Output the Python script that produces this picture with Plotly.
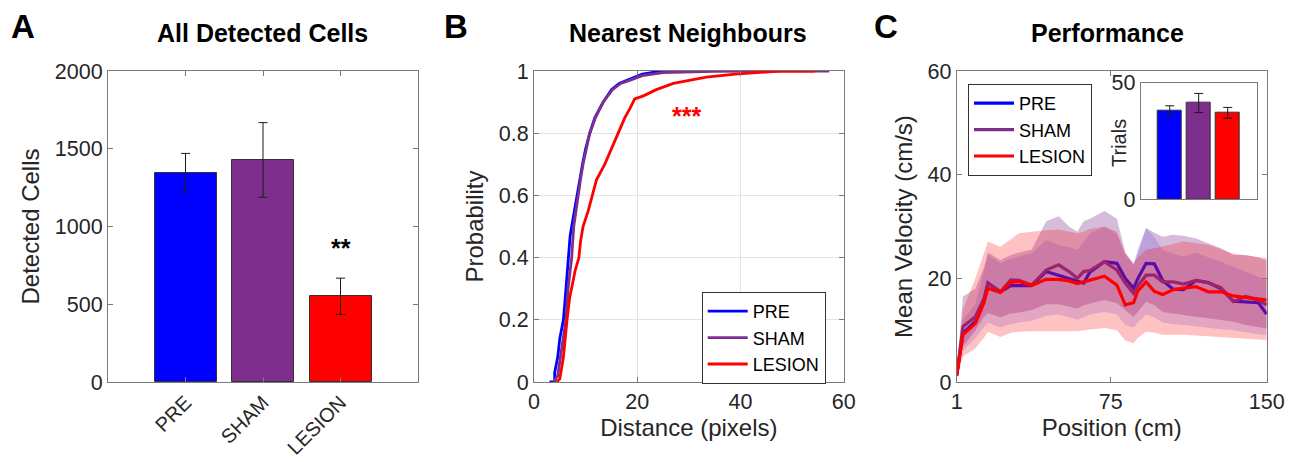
import plotly.graph_objects as go

# ---------------- DATA ----------------
groups = ["PRE", "SHAM", "LESION"]
colors = ["#0000FF", "#7E2F8E", "#FF0000"]

# Panel A: detected cells
cells_mean = [1346, 1428, 551]
cells_err = [124, 240, 117]

# Panel B: cumulative distributions of nearest neighbour distance
pre_cdf_x = [3.0, 4.0, 4.0, 4.6, 5.0, 5.7, 6.0, 6.3, 6.6, 7.0, 7.3, 7.8, 8.3, 8.8, 9.4, 10.0, 10.8,
             11.8, 13.4, 15.0, 16.5, 18.0, 21.0, 24.0, 29.0]
pre_cdf_y = [0.0, 0.0, 0.03, 0.08, 0.14, 0.20, 0.26, 0.32, 0.40, 0.47, 0.50, 0.55, 0.60, 0.65, 0.70,
             0.75, 0.80, 0.85, 0.90, 0.94, 0.96, 0.97, 0.99, 0.998, 1.0]
sham_cdf_x = [3.8, 4.6, 5.3, 6.2, 6.6, 7.3, 7.7, 8.1, 8.6, 9.0, 9.5, 10.1, 10.8, 11.9, 13.4, 15.2,
              16.8, 18.5, 21.0, 25.0, 35.0, 57.2]
sham_cdf_y = [0.0, 0.02, 0.10, 0.20, 0.30, 0.40, 0.50, 0.55, 0.60, 0.65, 0.70, 0.75, 0.80, 0.85, 0.90,
              0.94, 0.96, 0.97, 0.985, 0.995, 0.999, 1.0]
lesion_cdf_x = [4.4, 5.0, 5.7, 6.0, 6.4, 6.9, 7.5, 8.0, 8.7, 9.0, 9.5, 10.5, 11.3, 12.1, 13.7, 15.0,
                16.3, 17.6, 18.6, 19.5, 21.2, 23.7, 27.0, 30.0, 33.4, 39.0, 47.6, 54.4]
lesion_cdf_y = [0.0, 0.01, 0.08, 0.14, 0.20, 0.27, 0.32, 0.36, 0.40, 0.45, 0.50, 0.55, 0.60, 0.65,
                0.70, 0.75, 0.80, 0.85, 0.88, 0.91, 0.92, 0.94, 0.96, 0.97, 0.98, 0.99, 1.0, 1.0]

# Panel C: mean velocity along the track
position = [1, 4, 10, 14, 16, 22, 27, 31, 37, 44, 50, 55, 59, 62, 65, 72, 78, 82, 86, 88, 92, 96,
            100, 105, 110, 116, 122, 128, 134, 140, 146, 150]
pre_vel = [1.3, 9.4, 11.7, 15.5, 19.1, 17.4, 18.6, 18.6, 18.6, 21.3, 20.6, 20.0, 19.4, 19.1, 21.2,
           23.2, 22.9, 20.0, 18.1, 19.9, 22.9, 22.8, 19.6, 17.9, 17.8, 19.6, 19.2, 18.0, 15.6, 15.5,
           15.3, 13.1]
pre_up = [1.8, 12.0, 15.0, 21.0, 24.5, 22.9, 23.8, 24.2, 24.8, 27.4, 26.5, 26.0, 25.5, 27.0, 28.7,
          30.0, 28.5, 24.5, 22.9, 25.5, 29.7, 28.0, 25.5, 24.8, 24.2, 25.0, 24.0, 23.2, 22.2, 21.3,
          20.3, 19.7]
pre_lo = [0.8, 6.0, 8.5, 10.5, 11.5, 10.5, 11.2, 11.5, 11.8, 12.8, 13.0, 12.5, 12.0, 12.5, 13.0,
          13.5, 13.0, 11.0, 10.5, 11.5, 13.0, 12.5, 11.5, 11.2, 11.0, 10.8, 10.5, 10.2, 10.0, 9.6,
          9.2, 9.0]
sham_vel = [1.3, 10.7, 12.6, 16.0, 19.0, 17.4, 19.7, 19.6, 18.7, 21.6, 22.6, 21.3, 20.0, 21.3, 21.5,
            23.2, 21.6, 19.1, 17.1, 18.5, 20.6, 20.6, 19.3, 19.3, 18.9, 19.6, 19.1, 18.2, 15.5, 16.5,
            15.8, 14.9]
sham_up = [2.0, 16.5, 18.0, 22.0, 25.0, 23.5, 24.5, 25.0, 25.5, 31.0, 32.0, 30.0, 29.0, 31.0, 31.5,
           33.0, 31.5, 25.0, 22.5, 25.0, 29.7, 28.8, 28.0, 28.4, 28.2, 27.7, 26.8, 25.8, 24.5, 24.5,
           24.0, 23.5]
sham_lo = [0.8, 6.8, 10.0, 12.5, 13.3, 12.5, 13.2, 13.4, 13.9, 15.0, 15.0, 14.5, 14.2, 14.8, 15.2,
           15.8, 15.2, 13.9, 12.6, 13.5, 15.5, 14.8, 13.5, 13.2, 12.9, 12.6, 12.3, 12.0, 11.6, 11.0,
           10.6, 10.3]
lesion_vel = [1.2, 9.1, 11.3, 15.2, 18.1, 17.3, 19.2, 19.4, 18.6, 19.8, 19.8, 19.5, 19.0, 19.3, 19.7,
              20.4, 18.7, 14.9, 15.3, 17.5, 19.3, 17.5, 16.9, 17.8, 18.1, 18.4, 17.4, 17.4, 16.6,
              16.3, 16.1, 15.8]
lesion_up = [2.0, 14.0, 20.0, 25.0, 27.1, 26.1, 27.5, 28.7, 29.0, 29.3, 29.4, 29.0, 28.7, 29.0, 29.5,
             30.0, 29.0, 25.0, 22.9, 24.0, 25.5, 25.8, 26.1, 26.6, 27.1, 26.8, 26.5, 25.6, 24.8,
             24.4, 24.1, 23.9]
lesion_lo = [0.5, 4.9, 6.5, 8.5, 9.7, 8.7, 9.5, 9.7, 9.8, 9.9, 9.9, 9.8, 9.8, 10.0, 10.2, 10.4, 10.0,
             8.0, 7.5, 8.5, 9.7, 9.5, 9.1, 9.1, 9.1, 9.0, 8.8, 8.7, 8.5, 8.3, 8.2, 8.1]

# Inset: trials
trials_mean = [38.0, 41.3, 37.1]
trials_err = [2.1, 4.1, 2.3]

# ---------------- FIGURE ----------------
OFF = 8  # page body margin of the default html page
W, H = 1294 - OFF, 462 - OFF
FONT = "Liberation Sans, Arial, Helvetica, sans-serif"
TICKC = "#262626"
LINEC = "#7a7a7a"


def px_x(x):
    return (x - OFF) / W


def px_y(y):
    return 1 - (y - OFF) / H


fig = go.Figure()

# Panel A bars
fig.add_trace(go.Bar(
    x=[1, 2, 3], y=cells_mean, width=0.8,
    marker=dict(color=colors, line=dict(color="#333333", width=1)),
    error_y=dict(type="data", array=cells_err, color="#1a1a1a", thickness=1, width=4.5),
    xaxis="x", yaxis="y", showlegend=False))

# Panel B CDFs
for xs, ys, name, c in [(pre_cdf_x, pre_cdf_y, "PRE", colors[0]),
                        (sham_cdf_x, sham_cdf_y, "SHAM", colors[1]),
                        (lesion_cdf_x, lesion_cdf_y, "LESION", colors[2])]:
    fig.add_trace(go.Scatter(x=xs, y=ys, mode="lines", name=name,
                             line=dict(color=c, width=2.8),
                             xaxis="x2", yaxis="y2", legend="legend"))

# Panel C shaded bands + mean lines
band_fill = ["rgba(0,0,255,0.15)", "rgba(126,47,142,0.32)", "rgba(255,0,0,0.24)"]
series = [(pre_vel, pre_up, pre_lo), (sham_vel, sham_up, sham_lo), (lesion_vel, lesion_up, lesion_lo)]
for i, (m, up, lo) in enumerate(series):
    fig.add_trace(go.Scatter(
        x=position + position[::-1], y=up + lo[::-1], mode="lines",
        fill="toself", fillcolor=band_fill[i], line=dict(width=0),
        hoverinfo="skip", showlegend=False, xaxis="x3", yaxis="y3"))
    fig.add_trace(go.Scatter(
        x=position, y=m, mode="lines", name=groups[i],
        line=dict(color=colors[i], width=3.2),
        xaxis="x3", yaxis="y3", legend="legend2"))

# Inset bars
fig.add_trace(go.Bar(
    x=[1, 2, 3], y=trials_mean, width=0.8,
    marker=dict(color=colors, line=dict(color="#333333", width=1)),
    error_y=dict(type="data", array=trials_err, color="#1a1a1a", thickness=1, width=4.5),
    xaxis="x4", yaxis="y4", showlegend=False))

ax_common = dict(showline=True, linecolor=LINEC, linewidth=1, mirror="ticks",
                 ticks="inside", ticklen=5, tickcolor=LINEC, zeroline=False,
                 tickfont=dict(family=FONT, size=21.5, color=TICKC),
                 showgrid=False, automargin=False)
title_font = dict(family=FONT, size=24, color=TICKC)

yA0, yA1 = px_y(382), px_y(71)

fig.update_layout(
    width=W, height=H, autosize=False,
    margin=dict(l=0, r=0, t=0, b=0, pad=0, autoexpand=False),
    paper_bgcolor="white", plot_bgcolor="white",
    font=dict(family=FONT, color=TICKC),
    xaxis=dict(ax_common, domain=[px_x(108), px_x(418)], range=[0, 4],
               tickvals=[1, 2, 3], ticktext=groups, tickangle=-45, anchor="y",
               tickfont=dict(family=FONT, size=20, color=TICKC)),
    yaxis=dict(ax_common, domain=[yA0, yA1], range=[0, 2000],
               tickvals=[0, 500, 1000, 1500, 2000], anchor="x",
               title=dict(text="Detected Cells", font=title_font, standoff=8)),
    xaxis2=dict(ax_common, domain=[px_x(534), px_x(843.7)], range=[0, 60],
                tickvals=[0, 20, 40, 60], anchor="y2", showgrid=True, gridcolor="#e3e3e3",
                title=dict(text="Distance (pixels)", font=title_font, standoff=6)),
    yaxis2=dict(ax_common, domain=[yA0, yA1], range=[0, 1],
                tickvals=[0, 0.2, 0.4, 0.6, 0.8, 1], ticktext=["0", "0.2", "0.4", "0.6", "0.8", "1"],
                anchor="x2", showgrid=True, gridcolor="#e3e3e3",
                title=dict(text="Probability", font=title_font, standoff=8)),
    xaxis3=dict(ax_common, domain=[px_x(956.7), px_x(1266.7)], range=[1, 150],
                tickvals=[1, 75, 150], anchor="y3",
                title=dict(text="Position (cm)", font=title_font, standoff=6)),
    yaxis3=dict(ax_common, domain=[yA0, yA1], range=[0, 60],
                tickvals=[0, 20, 40, 60], anchor="x3",
                title=dict(text="Mean Velocity (cm/s)", font=title_font, standoff=8)),
    xaxis4=dict(showline=True, linecolor=LINEC, linewidth=1, mirror=True, ticks="",
                showticklabels=False, showgrid=False, zeroline=False, automargin=False,
                domain=[px_x(1140.7), px_x(1256.7)], range=[0, 4], anchor="y4"),
    yaxis4=dict(ax_common, domain=[px_y(199.3), px_y(82.7)], range=[0, 50],
                tickvals=[0, 50], anchor="x4"),
    legend=dict(x=px_x(701.7), y=px_y(292), xanchor="left", yanchor="top",
                bgcolor="white", bordercolor="#333333", borderwidth=1,
                font=dict(family=FONT, size=18, color="#000000"),
                tracegroupgap=0, itemwidth=40),
    legend2=dict(x=px_x(968), y=px_y(84), xanchor="left", yanchor="top",
                 bgcolor="white", bordercolor="#333333", borderwidth=1,
                 font=dict(family=FONT, size=18, color="#000000"),
                 tracegroupgap=0, itemwidth=40),
    bargap=0,
)

annots = []
for txt, x in [("A", 22.5), ("B", 455.8), ("C", 885.8)]:
    annots.append(dict(text="<b>%s</b>" % txt, x=px_x(x), y=px_y(26.5), xref="paper", yref="paper",
                       showarrow=False, xanchor="center", yanchor="middle",
                       font=dict(family=FONT, size=33, color="black")))
for txt, x in [("All Detected Cells", 262), ("Nearest Neighbours", 687.7), ("Performance", 1107.7)]:
    annots.append(dict(text="<b>%s</b>" % txt, x=px_x(x), y=px_y(33), xref="paper", yref="paper",
                       showarrow=False, xanchor="center", yanchor="middle",
                       font=dict(family=FONT, size=25, color="black")))
annots.append(dict(text="Trials", x=px_x(1119), y=px_y(143), xref="paper", yref="paper",
                   showarrow=False, xanchor="center", yanchor="middle", textangle=-90,
                   font=dict(family=FONT, size=20, color=TICKC)))
annots.append(dict(text="<b>**</b>", x=3, y=860, xref="x", yref="y", showarrow=False,
                   font=dict(family=FONT, size=25, color="black")))
annots.append(dict(text="<b>***</b>", x=29.5, y=0.855, xref="x2", yref="y2", showarrow=False,
                   font=dict(family=FONT, size=25, color="#FF0000")))
fig.update_layout(annotations=annots)

fig.write_html("out.html")
